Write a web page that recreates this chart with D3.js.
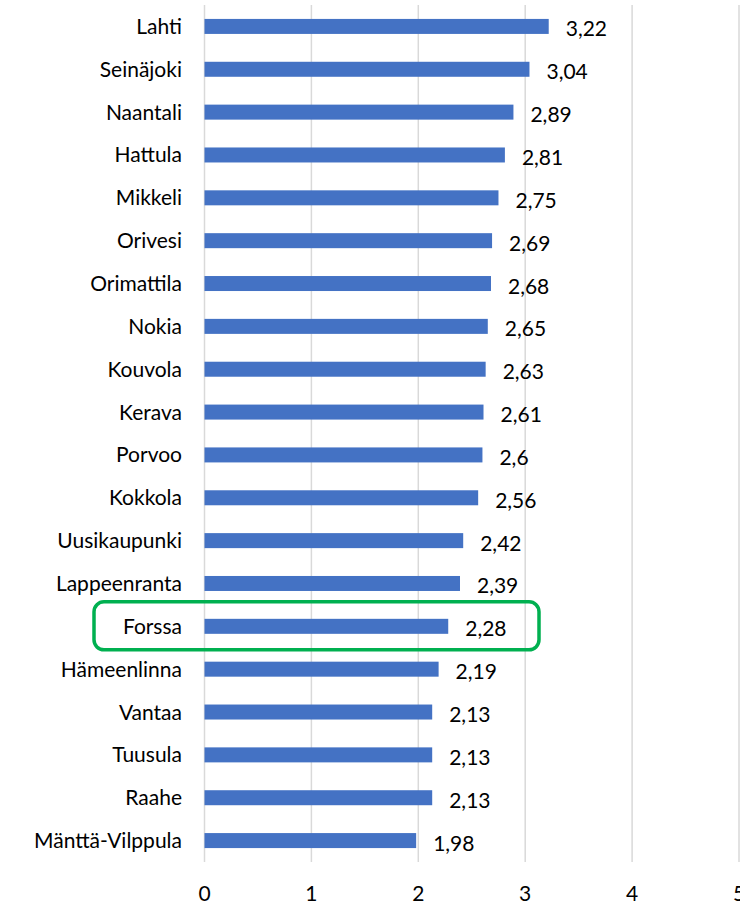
<!DOCTYPE html>
<html>
<head>
<meta charset="utf-8">
<script src="https://cdn.jsdelivr.net/npm/d3@7"></script>
<style>
  body { margin: 0; background: #fff; }
  svg { display: block; font-family: Lato, "Open Sans", sans-serif; }
</style>
</head>
<body>
<div id="root"></div>
<script>
const cities = ['Lahti', 'Seinäjoki', 'Naantali', 'Hattula', 'Mikkeli', 'Orivesi', 'Orimattila', 'Nokia', 'Kouvola', 'Kerava', 'Porvoo', 'Kokkola', 'Uusikaupunki', 'Lappeenranta', 'Forssa', 'Hämeenlinna', 'Vantaa', 'Tuusula', 'Raahe', 'Mänttä-Vilppula']
const values = [3.22, 3.04, 2.89, 2.81, 2.75, 2.69, 2.68, 2.65, 2.63, 2.61, 2.6, 2.56, 2.42, 2.39, 2.28, 2.19, 2.13, 2.13, 2.13, 1.98]
const xTicks = [0, 1, 2, 3, 4, 5]
const highlight = 'Forssa'

const graph = {
  width: 740,
  height: 904,
  left: 204.5,
  right: 739,
  top: 5,
  bottom: 862,
  font: 21
}

const data = cities.map((c, i) => ({ city: c, value: values[i] }))
const fmt = v => String(v).replace('.', ',')

const svg = d3.select('#root')
  .append('svg')
  .attr('width', graph.width)
  .attr('height', graph.height)

const x = d3.scaleLinear()
  .domain([0, 5])
  .range([graph.left, graph.right])

const y = d3.scaleBand()
  .domain(cities)
  .range([graph.top, graph.bottom])
  .paddingInner(0.65)
  .paddingOuter(0.325)

// gridlines
svg.append('g')
  .selectAll('line')
  .data(xTicks)
  .join('line')
  .attr('x1', d => x(d))
  .attr('x2', d => x(d))
  .attr('y1', graph.top)
  .attr('y2', graph.bottom)
  .attr('stroke', '#d9d9d9')
  .attr('stroke-width', 1.5)

// tick labels
svg.append('g')
  .selectAll('text')
  .data(xTicks)
  .join('text')
  .attr('x', d => x(d))
  .attr('y', 901)
  .attr('text-anchor', 'middle')
  .attr('font-size', graph.font)
  .attr('fill', '#000')
  .text(d => d)

// bars
svg.append('g')
  .selectAll('rect')
  .data(data)
  .join('rect')
  .attr('x', x(0))
  .attr('y', d => y(d.city))
  .attr('width', d => x(d.value) - x(0))
  .attr('height', y.bandwidth())
  .attr('fill', '#4472c4')

// category labels
svg.append('g')
  .selectAll('text')
  .data(data)
  .join('text')
  .attr('x', x(0) - 22.5)
  .attr('y', d => y(d.city) + y.bandwidth() / 2 + 7.5)
  .attr('text-anchor', 'end')
  .attr('font-size', graph.font)
  .attr('fill', '#000')
  .text(d => d.city)

// value labels
svg.append('g')
  .selectAll('text')
  .data(data)
  .join('text')
  .attr('x', d => x(d.value) + 17)
  .attr('y', d => y(d.city) + y.bandwidth() / 2 + 10)
  .attr('font-size', graph.font)
  .attr('fill', '#000')
  .text(d => fmt(d.value))

// highlight box
const hy = y(highlight) + y.bandwidth() / 2
svg.append('rect')
  .attr('x', 94)
  .attr('y', hy - 24.5)
  .attr('width', 445)
  .attr('height', 48)
  .attr('rx', 10)
  .attr('fill', 'none')
  .attr('stroke', '#00b050')
  .attr('stroke-width', 3.5)
</script>
</body>
</html>
